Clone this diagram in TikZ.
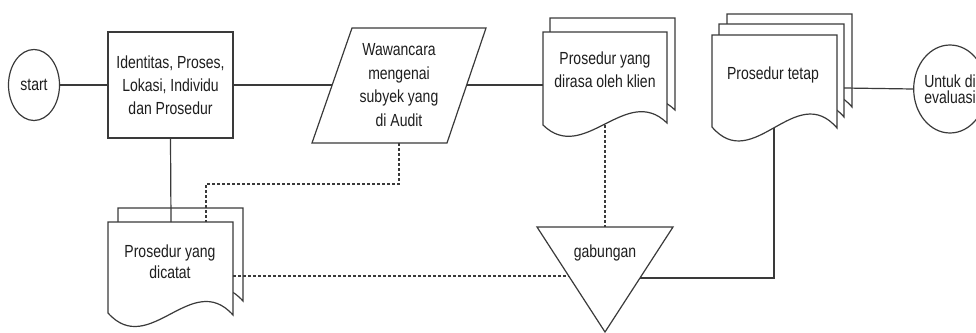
\documentclass[tikz,border=0pt]{standalone}
\usepackage{fontspec}
\setmainfont{Liberation Sans}[FakeStretch=0.8]
\usetikzlibrary{shapes.geometric}
\definecolor{ln}{HTML}{3A3A3A}
\definecolor{tx}{HTML}{1E1E1E}
\tikzset{
  shp/.style={draw=ln, line width=1.2pt, fill=white},
  conn/.style={draw=ln, line width=1.2pt},
  dconn/.style={draw=ln, line width=1.2pt, dash pattern=on 3pt off 2pt},
  lbl/.style={text=tx, align=center, font=\fontsize{17.5}{23}\selectfont, inner sep=0pt},
}
\newcommand\docpath[6]{%
  \path[shp] (#1,#3) -- (#2,#3) -- (#2,#5)
    .. controls ({#1+0.67*(#2-#1)},{#5-#6}) and ({#1+0.33*(#2-#1)},{#4+#6}) .. (#1,#4) -- cycle;}
\begin{document}
\begin{tikzpicture}[x=1pt,y=-1pt]
\useasboundingbox (0,0) rectangle (976,332);
\clip (0,0) rectangle (976,332);

% start
\node[ellipse, shp, minimum width=51pt, minimum height=71pt, inner sep=0pt, lbl] (start) at (34,85) {start};
% box
\node[rectangle, shp, minimum width=125pt, minimum height=106pt, lbl] (box) at (170.5,85) {Identitas, Proses,\\Lokasi, Individu\\dan Prosedur};
% parallelogram
\path[shp] (352,28) -- (486,28) -- (447,143) -- (312,143) -- cycle;
\node[lbl, font=\fontsize{17.5}{23.5}\selectfont] (para) at (399,85) {Wawancara\\mengenai\\subyek yang\\di Audit};
\coordinate (paraW) at (332,85);
\coordinate (paraE) at (467,85);
\coordinate (paraS) at (399,143);

% doc2
\docpath{550}{675}{18}{112}{110}{40}
\docpath{543}{667}{32}{125}{123}{40}
\node[lbl] (doc2) at (605,70) {Prosedur yang\\dirasa oleh klien};
\coordinate (doc2W) at (543,85);
\coordinate (doc2S) at (605,125);

% doc3
\docpath{727}{852}{14}{106}{107}{48}
\docpath{719}{844}{24}{116}{117}{48}
\docpath{712}{837}{35}{127}{128}{48}
\node[lbl] (doc3) at (773,75) {Prosedur tetap};
\coordinate (doc3E) at (844,88);
\coordinate (doc3S) at (774,128);

% end ellipse
\node[ellipse, shp, minimum width=64pt, minimum height=88pt, inner sep=0pt, lbl, font=\fontsize{17.5}{16}\selectfont] (end) at (950,89) {Untuk di\\evaluasi};

% doc1
\docpath{118}{243}{208}{299}{301}{46}
\docpath{108}{233}{222}{313}{315}{46}
\node[lbl, font=\fontsize{17.5}{21}\selectfont] (doc1) at (170,262) {Prosedur yang\\dicatat};
\coordinate (doc1N) at (171,222);
\coordinate (doc1Nd) at (206,222);
\coordinate (doc1E) at (233,276);

% triangle
\path[shp] (537,227) -- (673,227) -- (605,332) -- cycle;
\node[lbl] (gab) at (605,253) {gabungan};
\coordinate (gabN) at (605,227);
\coordinate (gabW) at (569,276);
\coordinate (gabE) at (640,278);

% connectors
\draw[conn] (start.east) -- (box.west);
\draw[conn] (box.east |- paraW) -- (paraW);
\draw[conn] (paraE) -- (doc2W);
\draw[conn] (box.south) -- (doc1N);
\draw[dconn] (paraS) -- (399,184) -| (doc1Nd);
\draw[dconn] (doc2S) -- (gabN);
\draw[dconn] (doc1E) -- (gabW);
\draw[conn] (doc3S) |- (gabE);
\draw[conn] (doc3E) -- (end.west);
\end{tikzpicture}
\end{document}
